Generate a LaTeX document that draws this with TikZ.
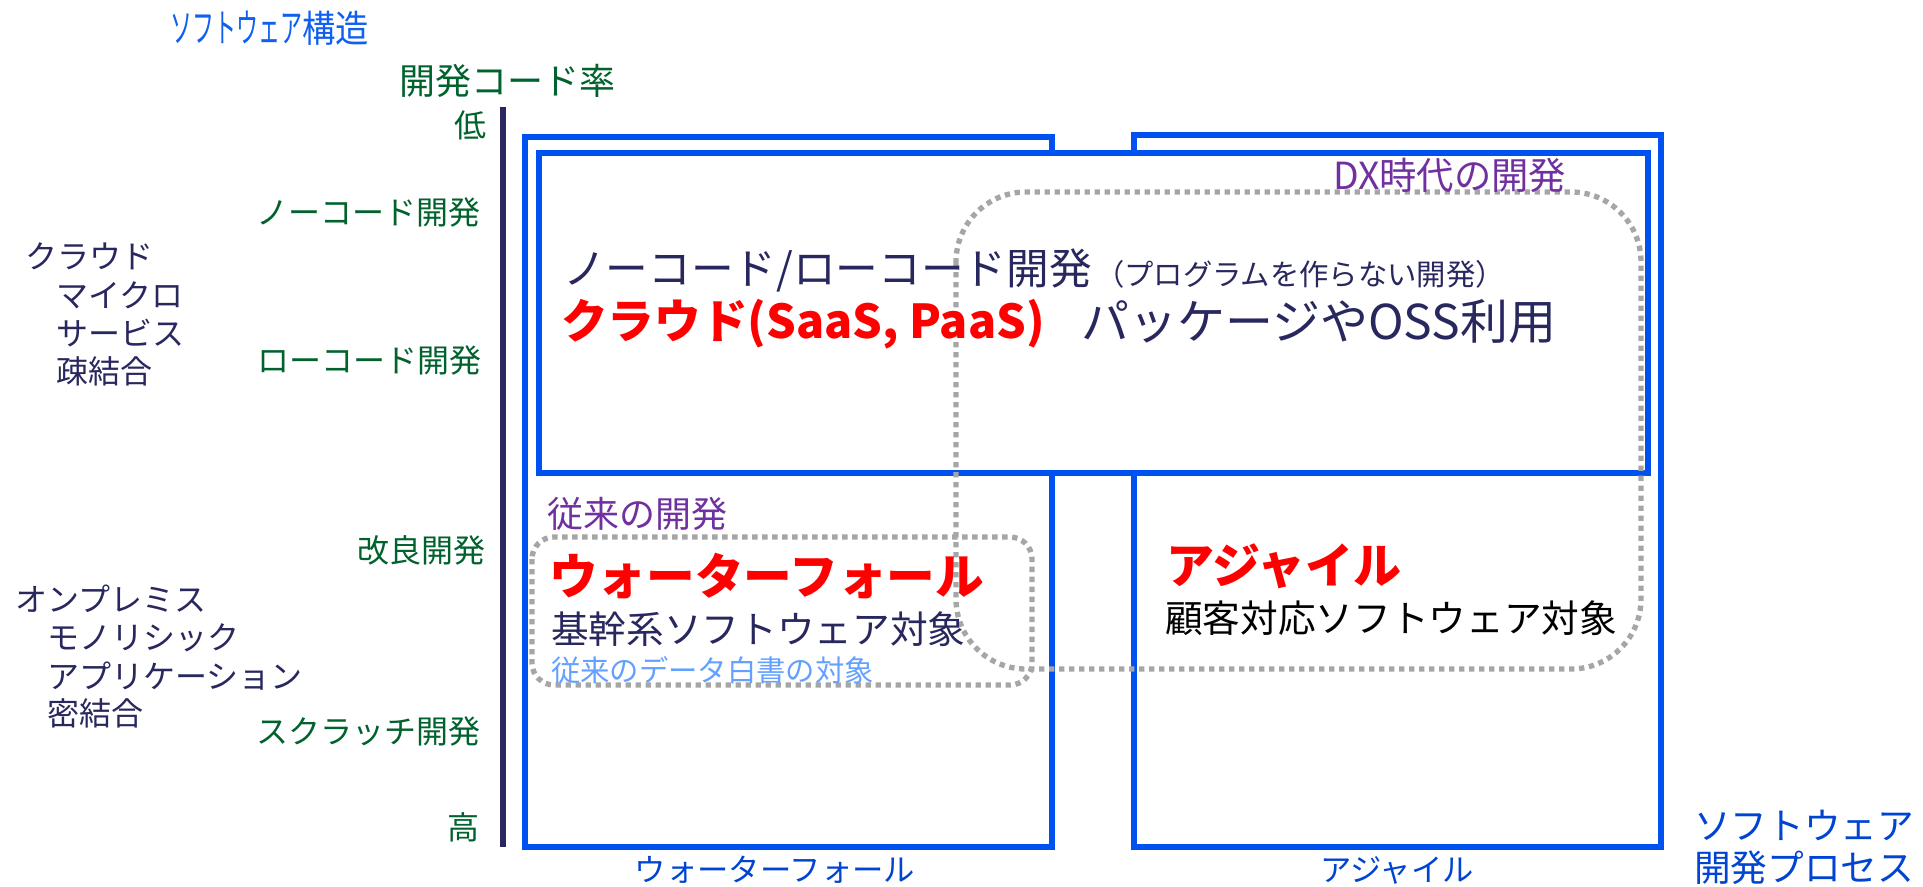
\documentclass[tikz,border=0pt]{standalone}
\usepackage{fontspec}
\setmainfont{Noto Sans CJK JP}
\newcommand\fsz[1]{\fontsize{#1}{#1}\selectfont}
\definecolor{boxblue}{RGB}{0,82,240}
\definecolor{titleblue}{RGB}{16,96,240}
\definecolor{axisblue}{RGB}{0,68,210}
\definecolor{navy}{RGB}{40,40,95}
\definecolor{dgreen}{RGB}{0,98,45}
\definecolor{purp}{RGB}{112,48,160}
\definecolor{ltblue}{RGB}{100,160,255}
\definecolor{dotgray}{RGB}{166,166,166}
\definecolor{redtxt}{RGB}{255,0,0}
\tikzset{
  lbl/.style={inner sep=0pt, outer sep=0pt},
  green/.style={lbl, text=dgreen, font=\fsz{24pt}, anchor=east},
  struct/.style={lbl, text=navy, font=\fsz{24pt}, anchor=west},
  procbox/.style={draw=boxblue, line width=4pt},
  dotbox/.style={draw=dotgray, line width=4pt, dash pattern=on 4pt off 3.5pt},
  axislbl/.style={lbl, text=axisblue, font=\fsz{23.5pt}},
}
\begin{document}
\begin{tikzpicture}[x=0.75pt, y=-0.75pt]
\path[fill=white, use as bounding box] (0,0) rectangle (1923,886);

% axis
\coordinate (axtop) at (503,107);
\coordinate (axbot) at (503,847);
\draw[navy, line width=5.2pt] (axtop) -- (axbot);

% outer process boxes
\draw[procbox] (525,137) rectangle (1052,847);
\draw[procbox] (1134,135) rectangle (1661,847);
% inner cloud box
\draw[procbox, fill=white] (539,153) rectangle (1648,473);

% dotted groups
\draw[dotbox, rounded corners=52.5pt] (956,192) rectangle (1641,669);
\draw[dotbox, rounded corners=16.5pt] (532,537) rectangle (1032,685);

% titles
\node[lbl, anchor=west, text=titleblue, font=\fsz{25pt}] (t1) at (170,28) {\scalebox{0.66}[1.18]{ソフトウェア}\scalebox{1}[1.12]{構造}};
\node[lbl, text=dgreen, font=\fsz{27pt}] (t2) at (507,81) {開発コード率};

% axis labels
\node[green] (low) at (486,125) {低};
\node[green] (nc) at (480,212) {ノーコード開発};
\node[green] (lc) at (481,360) {ローコード開発};
\node[green] (kr) at (485,550) {改良開発};
\node[green] (sc) at (480,731) {スクラッチ開発};
\node[green] (high) at (479,827) {高};

% structure labels
\node[struct] (s1) at (25,256) {クラウド};
\node[struct] (s2) at (56,295) {マイクロ};
\node[struct] (s3) at (56,333) {サービス};
\node[struct] (s4) at (56,371) {疎結合};
\node[struct] (s5) at (15,599) {オンプレミス};
\node[struct] (s6) at (47,638) {モノリシック};
\node[struct] (s7) at (47,676) {アプリケーション};
\node[struct] (s8) at (47,713) {密結合};

% cloud box texts
\node[lbl, anchor=west, text=navy, font=\fsz{32pt}] (c1) at (563,270) {ノーコード/ローコード開発};
\node[lbl, anchor=west, text=navy, font=\fsz{22pt}] (c2) at (1095,274) {（プログラムを作らない開発）};
\node[lbl, anchor=west, text=redtxt, font=\bfseries\fsz{35pt}] (c3) at (561,324) {クラウド(SaaS, PaaS)};
\node[lbl, anchor=west, text=navy, font=\fsz{36pt}] (c4) at (1081,322) {パッケージやOSS利用};
\node[lbl, anchor=west, text=purp, font=\fsz{28pt}] (dx) at (1333,175) {DX時代の開発};

% waterfall texts
\node[lbl, anchor=west, text=purp, font=\fsz{27pt}] (w0) at (547,514) {従来の開発};
\node[lbl, anchor=west, text=redtxt, font=\bfseries\fsz{36.5pt}] (w1) at (549,576) {ウォーターフォール};
\node[lbl, anchor=west, text=navy, font=\fsz{28.25pt}] (w2) at (551,629) {基幹系ソフトウェア対象};
\node[lbl, anchor=west, text=ltblue, font=\fsz{22pt}] (w3) at (551,670) {従来のデータ白書の対象};

% agile texts
\node[lbl, anchor=west, text=redtxt, font=\bfseries\fsz{36pt}] (a1) at (1166,566) {アジャイル};
\node[lbl, anchor=west, text=black, font=\fsz{28.25pt}] (a2) at (1165,618) {顧客対応ソフトウェア対象};

% bottom axis labels
\node[axislbl] (bw) at (775,870) {ウォーターフォール};
\node[axislbl] (ba) at (1397,870) {アジャイル};
\node[lbl, anchor=west, text=axisblue, font=\fsz{27.5pt}] (bp1) at (1694,825) {ソフトウェア};
\node[lbl, anchor=west, text=axisblue, font=\fsz{27.5pt}] (bp2) at (1694,868) {開発プロセス};
\end{tikzpicture}
\end{document}
